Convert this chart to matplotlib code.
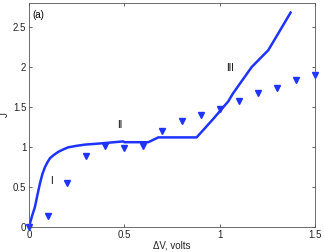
import matplotlib
matplotlib.use("Agg")
import matplotlib.pyplot as plt

# measured data (triangles)
dv_meas = [0.0, 0.1, 0.2, 0.3, 0.4, 0.5, 0.6, 0.7, 0.8, 0.9, 1.0, 1.1, 1.2, 1.3, 1.4, 1.5]
j_meas = [0.0, 0.14, 0.55, 0.89, 1.01, 0.99, 1.01, 1.20, 1.32, 1.40, 1.48, 1.57, 1.67, 1.74, 1.84, 1.90]

# model curve
dv_model = [0.0, 0.015, 0.031, 0.045, 0.058, 0.07, 0.084, 0.097, 0.11, 0.13, 0.154, 0.18, 0.206,
            0.25, 0.294, 0.35, 0.40, 0.494, 0.50, 0.626,
            0.678, 0.879, 0.966, 1.045, 1.07, 1.168, 1.255, 1.372]
j_model = [0.0, 0.13, 0.25, 0.41, 0.55, 0.66, 0.75, 0.81, 0.86, 0.90, 0.94, 0.97, 0.996,
           1.015, 1.03, 1.04, 1.05, 1.07, 1.06, 1.06,
           1.12, 1.12, 1.35, 1.57, 1.67, 2.0, 2.21, 2.68]

xticks = [0, 0.5, 1, 1.5]
xticklabels = ["0", "0.5", "1", "1.5"]
yticks = [0, 0.5, 1, 1.5, 2, 2.5]
yticklabels = ["0", "0.5", "1", "1.5", "2", "2.5"]

plt.rcParams['font.family'] = ['Liberation Sans', 'DejaVu Sans']
fig = plt.figure(figsize=(3.24, 2.52), dpi=100)
ax = fig.add_axes([29/324, 1-227/252, (315-29)/324, (227-3)/252])

blue = '#1f33ff'
ax.plot(dv_model, j_model, color=blue, lw=1.8, solid_joinstyle='round')
ax.plot(dv_meas, j_meas, linestyle='none', marker='v', color=blue, ms=4.5, clip_on=False)

ax.set_xlim(0, 1.5)
ax.set_ylim(0, 2.8)
ax.set_xticks(xticks)
ax.set_xticklabels(xticklabels)
ax.set_yticks(yticks)
ax.set_yticklabels(yticklabels)
ax.tick_params(direction='in', length=2.5, width=0.5, labelsize=7, colors='#222222',
               top=True, right=True, pad=2)
for s in ax.spines.values():
    s.set_color('#555555')
    s.set_linewidth(0.6)

fig.text(172/324, 1-245/252, 'ΔV, volts', fontsize=7, ha='center', va='center', color='#222222')
fig.text(5/324, 1-115/252, 'J', fontsize=7, ha='center', va='center', rotation=90, color='#222222')

ax.text(0.02, 2.65, '(a)', fontsize=7, va='center', ha='left')
ax.text(0.12, 0.57, 'I', fontsize=7, va='center', ha='center')
ax.text(0.477, 1.27, 'II', fontsize=7, va='center', ha='center')
ax.text(1.056, 1.99, 'III', fontsize=7, va='center', ha='center')

fig.savefig('out.png', dpi=100)
